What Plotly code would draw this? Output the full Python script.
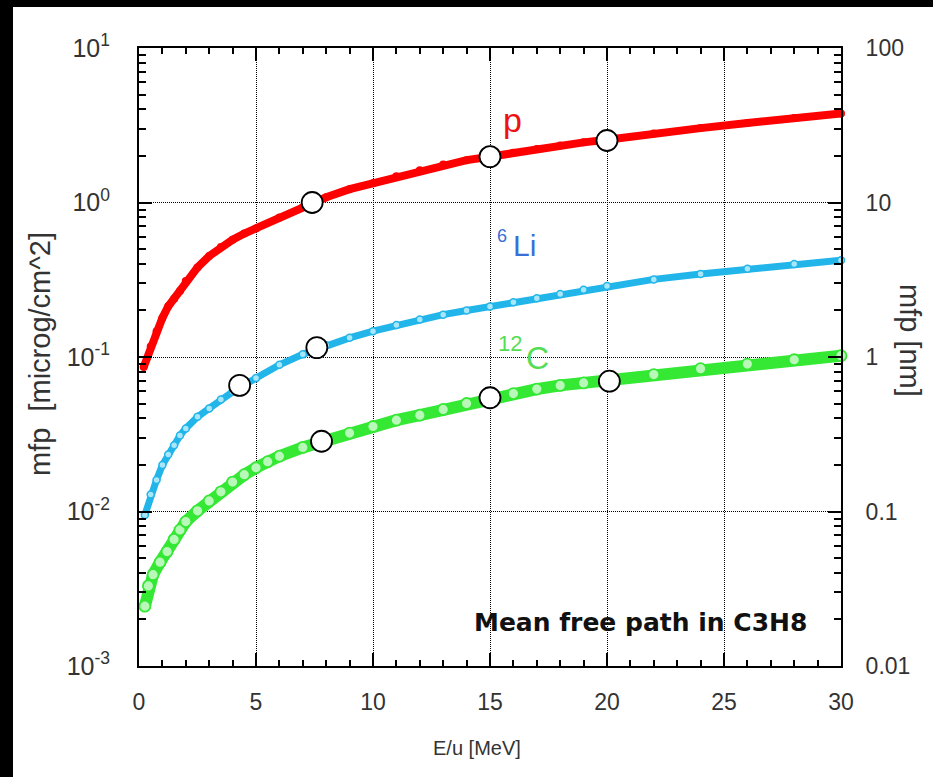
import plotly.graph_objects as go

# ---------------- data ----------------
p_E = [0.2, 0.5, 0.75, 1.0, 1.25, 1.5, 1.75, 2.0, 2.5, 3.0, 3.5, 4.0, 4.5, 5.0, 6.0, 7.0, 8.0,
       9.0, 10, 11, 12, 13, 14, 15, 16, 17, 18, 19, 20, 22, 24, 26, 28, 30]
p_mfp = [0.086, 0.117, 0.147, 0.179, 0.213, 0.238, 0.267, 0.31, 0.38, 0.45, 0.515, 0.575, 0.63, 0.68,
         0.80, 0.93, 1.08, 1.22, 1.33, 1.48, 1.62, 1.76, 1.88, 1.98, 2.10, 2.22, 2.34, 2.45, 2.55,
         2.80, 3.03, 3.27, 3.52, 3.77]

li_E = [0.25, 0.5, 0.75, 1.0, 1.25, 1.5, 1.75, 2.0, 2.5, 3.0, 3.5, 4.0, 4.5, 5.0, 6.0, 7.0, 8.0,
        9.0, 10, 11, 12, 13, 14, 15, 16, 17, 18, 19, 20, 22, 24, 26, 28, 30]
li_mfp = [0.0095, 0.0129, 0.0160, 0.020, 0.0234, 0.0268, 0.031, 0.0345, 0.041, 0.0465, 0.053, 0.0595,
          0.066, 0.073, 0.089, 0.104, 0.119, 0.133, 0.147, 0.161, 0.175, 0.188, 0.200, 0.212, 0.226,
          0.240, 0.256, 0.272, 0.288, 0.318, 0.345, 0.372, 0.400, 0.423]

c_E = [0.25, 0.4, 0.6, 0.9, 1.2, 1.5, 1.75, 2.0, 2.5, 3.0, 3.5, 4.0, 4.5, 5.0, 5.5, 6.0, 7.0, 8.0,
       9.0, 10, 11, 12, 13, 14, 15, 16, 17, 18, 19, 20, 22, 24, 26, 28, 30]
c_mfp = [0.00244, 0.0033, 0.0039, 0.0047, 0.0055, 0.0066, 0.0076, 0.0086, 0.0101, 0.0117, 0.0134,
         0.0155, 0.0173, 0.0192, 0.0210, 0.0228, 0.0260, 0.0290, 0.0322, 0.0355, 0.039, 0.042,
         0.0458, 0.050, 0.0545, 0.058, 0.062, 0.0655, 0.068, 0.0697, 0.077, 0.084, 0.090, 0.096, 0.102]

ref_E = [7.4, 15.0, 20.0, 4.3, 7.6, 7.8, 15.0, 20.1]
ref_mfp = [1.0, 1.98, 2.52, 0.0655, 0.115, 0.0285, 0.0545, 0.0697]

left_tickvals = [1e-3, 1e-2, 1e-1, 1e0, 1e1]
left_ticktext = ["10<sup>-3</sup>", "10<sup>-2</sup>", "10<sup>-1</sup>", "10<sup>0</sup>", "10<sup>1</sup>"]
right_tickvals = [0.01, 0.1, 1, 10, 100]
right_ticktext = ["0.01", "0.1", "1", "10", "100"]
x_tickvals = [0, 5, 10, 15, 20, 25, 30]

# ---------------- layout helpers ----------------
W, H = 933, 777
L, R, T, B = 139, 841, 48, 666


def px(x):
    return (x - L) / (R - L)


def py(y):
    return (B - y) / (B - T)


FONT = "Liberation Sans, Arial, sans-serif"

fig = go.Figure()

fig.add_trace(go.Scatter(
    x=p_E, y=p_mfp, mode="lines+markers", cliponaxis=False,
    line=dict(color="#ff0000", width=8),
    marker=dict(symbol="circle", size=8, color="#ff0000"),
    hoverinfo="x+y", showlegend=False))

fig.add_trace(go.Scatter(
    x=li_E, y=li_mfp, mode="lines+markers", cliponaxis=False,
    line=dict(color="#22b5ea", width=7),
    marker=dict(symbol="circle", size=7, color="#a8e6fa", line=dict(color="#22b5ea", width=1.5)),
    hoverinfo="x+y", showlegend=False))

fig.add_trace(go.Scatter(
    x=c_E, y=c_mfp, mode="lines+markers", cliponaxis=False,
    line=dict(color="#34e834", width=12),
    marker=dict(symbol="circle", size=11, color="#b8f8b8", line=dict(color="#34e834", width=1.8)),
    hoverinfo="x+y", showlegend=False))

fig.add_trace(go.Scatter(
    x=ref_E, y=ref_mfp, mode="markers", cliponaxis=False,
    marker=dict(symbol="circle", size=21, color="white", line=dict(color="black", width=1.8)),
    hoverinfo="x+y", showlegend=False))

# invisible trace so the right (nm) axis is drawn
fig.add_trace(go.Scatter(x=[15], y=[1], yaxis="y2", mode="markers",
                         marker=dict(opacity=0), hoverinfo="skip", showlegend=False))

axis_common = dict(showline=True, linecolor="black", linewidth=2, ticks="inside",
                   tickcolor="black", tickwidth=1.5, ticklen=13, zeroline=False)

fig.update_layout(
    width=W, height=H,
    margin=dict(l=L, r=W - R, t=T, b=H - B, pad=0),
    paper_bgcolor="white", plot_bgcolor="white",
    font=dict(family=FONT, color="#333333"),
    xaxis=dict(range=[0, 30], tickvals=x_tickvals, mirror="ticks",
               showgrid=True, gridcolor="black", gridwidth=1, griddash="1px,1px",
               minor=dict(dtick=1, ticks="inside", ticklen=6, tickcolor="black", tickwidth=1.5),
               tickfont=dict(size=23, color="#333333"), ticklabelstandoff=14,
               **axis_common),
    yaxis=dict(type="log", range=[-3, 1], tickvals=left_tickvals, ticktext=left_ticktext,
               showgrid=True, gridcolor="black", gridwidth=1, griddash="1px,1px",
               minor=dict(dtick="D1", ticks="inside", ticklen=7, tickcolor="black", tickwidth=1.5,
                          showgrid=False),
               tickfont=dict(size=25, color="#333333"), ticklabelstandoff=22,
               **axis_common),
    yaxis2=dict(type="log", range=[-2, 2], overlaying="y", side="right", anchor="x",
                tickvals=right_tickvals, ticktext=right_ticktext, showgrid=False,
                minor=dict(dtick="D1", ticks="inside", ticklen=7, tickcolor="black", tickwidth=1.5,
                           showgrid=False),
                tickfont=dict(size=23, color="#333333"), ticklabelstandoff=18,
                **axis_common),
)


def label(text, x, y, size, color, family=FONT, angle=0):
    return dict(text=text, x=px(x), y=py(y), xref="paper", yref="paper",
                xanchor="center", yanchor="middle", textangle=angle,
                showarrow=False, font=dict(size=size, family=family, color=color))


ann = [
    # axis titles
    label("E/u [MeV]", 477, 748, 20, "#333333"),
    label("mfp  [microg/cm^2]", 40, 354, 29, "#333333", angle=-90),
    label("mfp [nm]", 910, 340, 29, "#333333", angle=90),
    # curve labels
    label("p", 512, 120, 34, "#ee1111"),
    label("6", 502, 236, 18, "#3a6fd8"),
    label("Li", 524, 246, 30, "#3a6fd8"),
    label("12", 510, 343, 22, "#55dd55"),
    label("C", 537, 358, 32, "#55dd55"),
    label("<b>Mean free path in C3H8</b>", 640, 622, 25, "#111111",
          family="DejaVu Sans, sans-serif"),
]
fig.update_layout(annotations=ann)

# black frame strips at left and top of the picture
fig.add_shape(type="rect", xref="paper", yref="paper", x0=px(-5), x1=px(13), y0=py(H + 5), y1=py(-5),
              fillcolor="black", line=dict(width=0), layer="above")
fig.add_shape(type="rect", xref="paper", yref="paper", x0=px(-5), x1=px(W + 5), y0=py(7), y1=py(-5),
              fillcolor="black", line=dict(width=0), layer="above")

fig.write_html("out.html", config={"displayModeBar": False},
               post_script=("document.documentElement.style.background='white';"
                            "document.body.style.background='white';"
                            "document.body.style.margin='0';document.body.style.overflow='hidden';"))
